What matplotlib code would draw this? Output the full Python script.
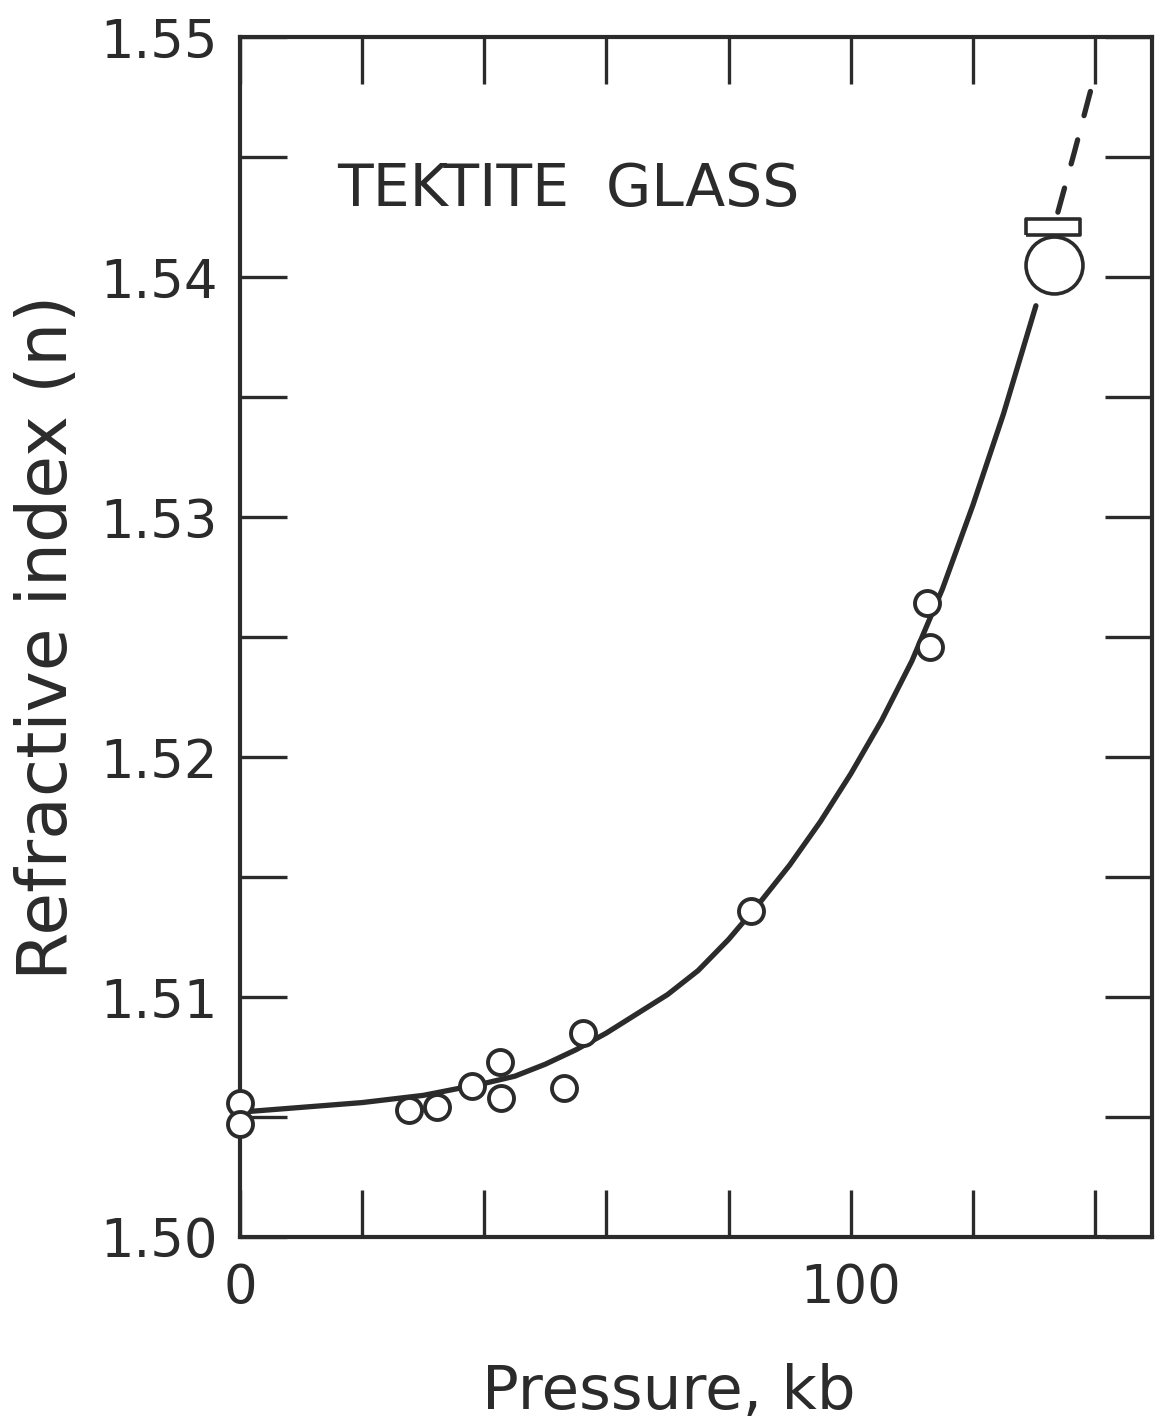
import matplotlib
matplotlib.use("Agg")
import matplotlib.pyplot as plt
from matplotlib.ticker import FixedLocator, FixedFormatter

# Measured refractive index of tektite glass under pressure
pressure_kb = [0, 0, 27.7, 32.3, 38.0, 42.5, 42.8, 53.1, 56.2, 83.6, 112.5, 113.0]
refr_index = [1.5056, 1.5047, 1.5053, 1.5054, 1.5063, 1.5073, 1.5058,
              1.5062, 1.5085, 1.5136, 1.5264, 1.5246]

# Highest-pressure reading (large circle) and its bar marker
high_p = [133.3]
high_n = [1.5405]
bar_p = [133.1]
bar_n = [1.5421]

# Hand-drawn trend curve
curve_p = [0, 10, 20, 30, 40, 45, 50, 55, 60, 65, 70, 75, 80, 85, 90, 95,
           100, 105, 110, 115, 120, 125, 130.3]
curve_n = [1.5052, 1.5054, 1.5056, 1.5059, 1.5064, 1.5067, 1.5072, 1.5078,
           1.5085, 1.5093, 1.5101, 1.5111, 1.5124, 1.5139, 1.5155, 1.5173,
           1.5193, 1.5215, 1.5240, 1.5270, 1.5305, 1.5343, 1.5388]

# Extrapolated (dashed) continuation
dash_p = [133.9, 136.6, 139.3]
dash_n = [1.5427, 1.5452, 1.5478]

x_ticks = [0, 20, 40, 60, 80, 100, 120, 140]
x_labels = ["0", "", "", "", "", "100", "", ""]
y_major = [1.50, 1.51, 1.52, 1.53, 1.54, 1.55]
y_labels = ["1.50", "1.51", "1.52", "1.53", "1.54", "1.55"]
y_minor = [1.505, 1.515, 1.525, 1.535, 1.545]

INK = "#2b2b2b"
plt.rcParams["font.family"] = ["DejaVu Sans"]

fig = plt.figure(figsize=(11.56, 14.21), dpi=100)
ax = fig.add_axes([0.2076, 0.1295, 0.7889, 0.8445])

lw = 3.8
ax.plot(curve_p, curve_n, color=INK, lw=lw, solid_capstyle="round",
        solid_joinstyle="round", zorder=2)
dline, = ax.plot(dash_p, dash_n, color=INK, lw=lw, dash_capstyle="round", zorder=2)
dline.set_dashes((18.0 / lw, 18.0 / lw))

ax.plot(pressure_kb, refr_index, linestyle="none", marker="o", ms=18,
        mfc="white", mec=INK, mew=2.8, zorder=3, clip_on=False)
ax.plot(high_p, high_n, linestyle="none", marker="o", ms=41,
        mfc="white", mec=INK, mew=2.6, zorder=3, clip_on=False)
bar_marker = [(-1, -0.3), (1, -0.3), (1, 0.3), (-1, 0.3), (-1, -0.3)]
ax.plot(bar_p, bar_n, linestyle="none", marker=bar_marker, ms=39,
        mfc="white", mec=INK, mew=2.6, zorder=3, clip_on=False)

ax.text(0.107, 0.8725, "TEKTITE  GLASS", transform=ax.transAxes,
        fontsize=42, color=INK, ha="left", va="center")

ax.set_xlim(0, 149.3)
ax.set_ylim(1.50, 1.55)

ax.xaxis.set_major_locator(FixedLocator(x_ticks))
ax.xaxis.set_major_formatter(FixedFormatter(x_labels))
ax.yaxis.set_major_locator(FixedLocator(y_major))
ax.yaxis.set_major_formatter(FixedFormatter(y_labels))
ax.yaxis.set_minor_locator(FixedLocator(y_minor))

ax.tick_params(which="both", direction="in", length=34, width=2.4,
               color=INK, top=True, right=True)
ax.tick_params(axis="y", which="major", labelsize=38, labelcolor=INK, pad=16)
ax.tick_params(axis="x", which="major", labelsize=38, labelcolor=INK, pad=18)

for s in ax.spines.values():
    s.set_linewidth(3.0)
    s.set_color(INK)

ax.set_ylabel("Refractive index (n)", fontsize=50, color=INK, labelpad=14)
ax.set_xlabel("Pressure, kb", fontsize=44, color=INK, labelpad=36)
ax.xaxis.set_label_coords(0.47, -0.105)

fig.savefig("out.png", dpi=100, facecolor="white")
